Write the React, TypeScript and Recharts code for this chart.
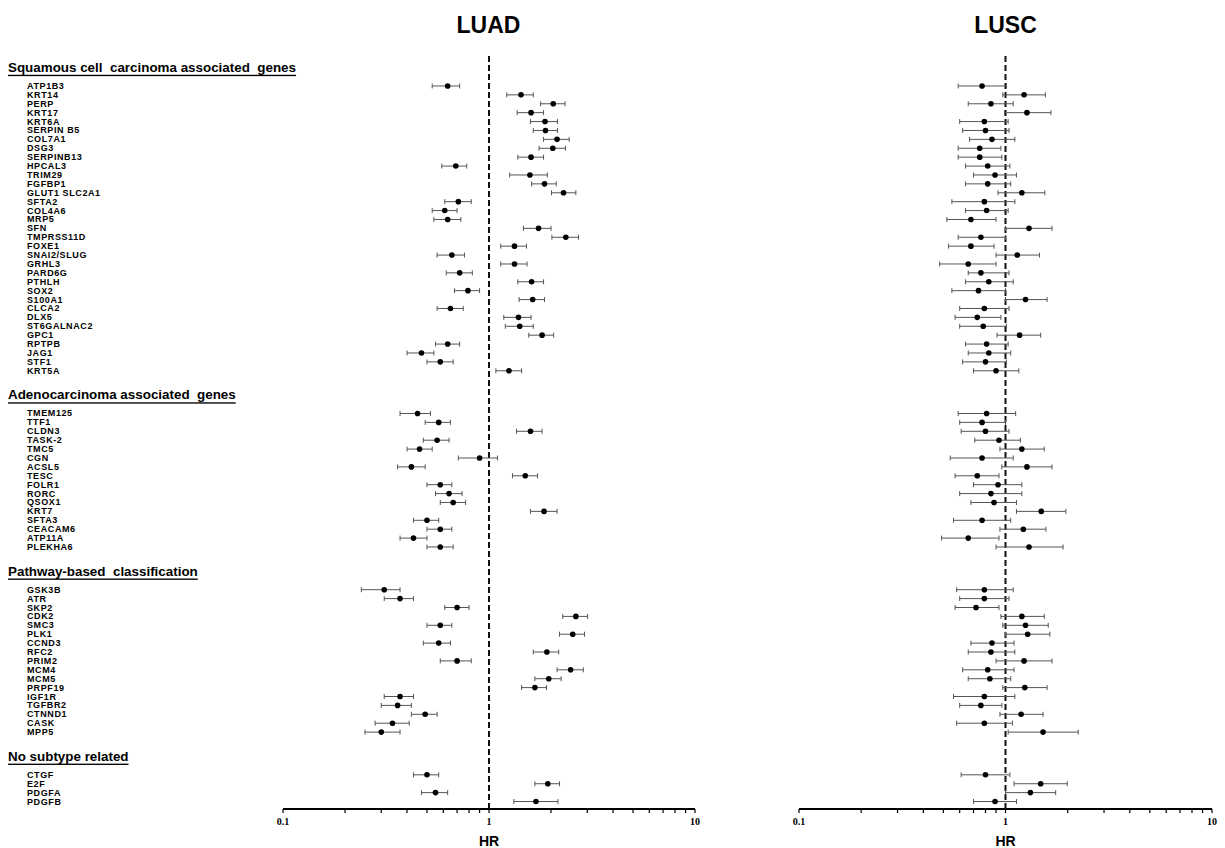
import React from 'react';
import { ComposedChart, Scatter, XAxis, YAxis, ErrorBar, ReferenceLine } from 'recharts';

// ---------- categories ----------
const squamousGenes = [
  'ATP1B3', 'KRT14', 'PERP', 'KRT17', 'KRT6A', 'SERPIN B5', 'COL7A1', 'DSG3', 'SERPINB13', 'HPCAL3',
  'TRIM29', 'FGFBP1', 'GLUT1 SLC2A1', 'SFTA2', 'COL4A6', 'MRP5', 'SFN', 'TMPRSS11D', 'FOXE1', 'SNAI2/SLUG',
  'GRHL3', 'PARD6G', 'PTHLH', 'SOX2', 'S100A1', 'CLCA2', 'DLX5', 'ST6GALNAC2', 'GPC1', 'RPTPB',
  'JAG1', 'STF1', 'KRT5A',
];
const adenoGenes = [
  'TMEM125', 'TTF1', 'CLDN3', 'TASK-2', 'TMC5', 'CGN', 'ACSL5', 'TESC', 'FOLR1', 'RORC',
  'QSOX1', 'KRT7', 'SFTA3', 'CEACAM6', 'ATP11A', 'PLEKHA6',
];
const pathwayGenes = [
  'GSK3B', 'ATR', 'SKP2', 'CDK2', 'SMC3', 'PLK1', 'CCND3', 'RFC2', 'PRIM2', 'MCM4',
  'MCM5', 'PRPF19', 'IGF1R', 'TGFBR2', 'CTNND1', 'CASK', 'MPP5',
];
const noSubtypeGenes = ['CTGF', 'E2F', 'PDGFA', 'PDGFB'];

const groupTitles = [
  'Squamous cell  carcinoma associated  genes',
  'Adenocarcinoma associated  genes',
  'Pathway-based  classification',
  'No subtype related',
];

// ---------- LUAD values ----------
const luadHR = [
  0.63, 1.43, 2.05, 1.60, 1.87, 1.88, 2.14, 2.04, 1.60, 0.69,
  1.58, 1.86, 2.30, 0.71, 0.61, 0.63, 1.74, 2.36, 1.33, 0.66,
  1.33, 0.72, 1.61, 0.79, 1.63, 0.65, 1.39, 1.41, 1.81, 0.63,
  0.47, 0.58, 1.25,
  0.45, 0.57, 1.59, 0.56, 0.46, 0.90, 0.42, 1.50, 0.58, 0.64,
  0.67, 1.85, 0.50, 0.58, 0.43, 0.58,
  0.31, 0.37, 0.70, 2.64, 0.58, 2.55, 0.57, 1.91, 0.70, 2.49,
  1.95, 1.67, 0.37, 0.36, 0.49, 0.34, 0.30,
  0.50, 1.93, 0.55, 1.69,
];
const luadLow = [
  0.53, 1.22, 1.78, 1.37, 1.59, 1.64, 1.84, 1.75, 1.38, 0.59,
  1.26, 1.61, 2.01, 0.61, 0.53, 0.54, 1.47, 2.02, 1.14, 0.56,
  1.14, 0.62, 1.38, 0.68, 1.40, 0.56, 1.18, 1.20, 1.56, 0.55,
  0.40, 0.50, 1.08,
  0.37, 0.49, 1.36, 0.48, 0.40, 0.71, 0.36, 1.30, 0.50, 0.55,
  0.58, 1.59, 0.43, 0.50, 0.37, 0.50,
  0.24, 0.31, 0.61, 2.28, 0.50, 2.20, 0.48, 1.64, 0.58, 2.14,
  1.67, 1.44, 0.31, 0.30, 0.42, 0.28, 0.25,
  0.43, 1.67, 0.47, 1.32,
];
const luadHigh = [
  0.72, 1.64, 2.34, 1.84, 2.15, 2.15, 2.45, 2.35, 1.84, 0.78,
  1.92, 2.12, 2.64, 0.82, 0.70, 0.73, 2.00, 2.72, 1.52, 0.76,
  1.53, 0.83, 1.84, 0.90, 1.86, 0.75, 1.60, 1.64, 2.06, 0.72,
  0.54, 0.67, 1.44,
  0.52, 0.65, 1.81, 0.64, 0.53, 1.10, 0.49, 1.72, 0.66, 0.74,
  0.77, 2.14, 0.57, 0.66, 0.50, 0.67,
  0.37, 0.43, 0.80, 3.01, 0.66, 2.91, 0.65, 2.18, 0.82, 2.87,
  2.24, 1.90, 0.43, 0.42, 0.56, 0.41, 0.37,
  0.57, 2.20, 0.63, 2.16,
];

// ---------- LUSC values ----------
const luscHR = [
  0.77, 1.23, 0.85, 1.27, 0.79, 0.80, 0.86, 0.75, 0.75, 0.82,
  0.89, 0.82, 1.20, 0.79, 0.81, 0.68, 1.30, 0.76, 0.68, 1.14,
  0.66, 0.76, 0.83, 0.74, 1.25, 0.79, 0.73, 0.78, 1.17, 0.81,
  0.83, 0.80, 0.90,
  0.81, 0.77, 0.80, 0.93, 1.20, 0.77, 1.27, 0.73, 0.92, 0.85,
  0.88, 1.49, 0.77, 1.22, 0.66, 1.30,
  0.79, 0.79, 0.72, 1.20, 1.25, 1.28, 0.86, 0.85, 1.23, 0.82,
  0.84, 1.24, 0.79, 0.76, 1.19, 0.79, 1.52,
  0.80, 1.48, 1.32, 0.89,
];
const luscLow = [
  0.59, 0.97, 0.66, 0.99, 0.60, 0.62, 0.67, 0.59, 0.59, 0.64,
  0.70, 0.64, 0.92, 0.55, 0.64, 0.52, 1.00, 0.59, 0.53, 0.90,
  0.48, 0.66, 0.64, 0.55, 1.00, 0.60, 0.57, 0.60, 0.91, 0.64,
  0.66, 0.62, 0.70,
  0.59, 0.60, 0.61, 0.71, 0.94, 0.54, 0.96, 0.57, 0.70, 0.60,
  0.68, 1.13, 0.56, 0.94, 0.49, 0.90,
  0.58, 0.60, 0.57, 0.95, 0.97, 1.00, 0.68, 0.66, 0.90, 0.62,
  0.66, 0.97, 0.56, 0.60, 0.94, 0.58, 1.03,
  0.61, 1.10, 1.00, 0.70,
];
const luscHigh = [
  1.01, 1.56, 1.09, 1.66, 1.03, 1.04, 1.11, 0.95, 0.96, 1.05,
  1.13, 1.06, 1.55, 1.11, 1.03, 0.90, 1.68, 1.00, 0.88, 1.46,
  0.90, 1.04, 1.09, 1.00, 1.59, 1.04, 0.95, 1.01, 1.48, 1.03,
  1.06, 1.01, 1.16,
  1.12, 1.00, 1.04, 1.18, 1.54, 1.09, 1.68, 0.93, 1.20, 1.20,
  1.13, 1.96, 1.06, 1.57, 0.93, 1.90,
  1.09, 1.04, 0.93, 1.54, 1.61, 1.64, 1.10, 1.11, 1.68, 1.10,
  1.06, 1.59, 1.11, 0.96, 1.52, 1.08, 2.25,
  1.05, 1.99, 1.75, 1.13,
];

// ---------- x-axis ticks ----------
const hrTicks = [0.1, 0.2, 0.3, 0.4, 0.5, 0.6, 0.7, 0.8, 0.9, 1, 2, 3, 4, 5, 6, 7, 8, 9, 10];
const hrTickLabels = ['0.1', '1', '10'];

// ---------- layout helpers (row slots) ----------
const GROUP_GAP = 4.8;
const HEADER_OFFSET = 2.1;
const Y_DOMAIN: [number, number] = [-3.48, 81.24];

type RowEntry = { pos: number; label: string; header: boolean; idx: number };
const entries: RowEntry[] = [];
{
  const groups = [squamousGenes, adenoGenes, pathwayGenes, noSubtypeGenes];
  let start = 0;
  let idx = 0;
  groups.forEach((genes, g) => {
    entries.push({ pos: start - HEADER_OFFSET, label: groupTitles[g], header: true, idx: -1 });
    genes.forEach((gene, i) => {
      entries.push({ pos: start + i, label: gene, header: false, idx: idx++ });
    });
    start = start + genes.length - 1 + GROUP_GAP;
  });
}
const geneEntries = entries.filter((e) => !e.header);
const yTicks = entries.map((e) => e.pos);

const buildData = (hr: number[], lo: number[], hi: number[]) =>
  geneEntries.map((e) => ({
    gene: e.label,
    pos: e.pos,
    hr: hr[e.idx],
    err: [hr[e.idx] - lo[e.idx], hi[e.idx] - hr[e.idx]],
  }));

const luadData = buildData(luadHR, luadLow, luadHigh);
const luscData = buildData(luscHR, luscLow, luscHigh);

const SANS = '"Liberation Sans", Arial, Helvetica, sans-serif';
const SERIF = '"Liberation Serif", "Times New Roman", serif';

const GeneTick = (props: any) => {
  const { y, payload } = props;
  const entry = entries.find((e) => Math.abs(e.pos - payload.value) < 1e-6);
  if (!entry) return null;
  if (entry.header) {
    return (
      <text
        x={8}
        y={y}
        dominantBaseline="central"
        fontSize={13.4}
        fontWeight="bold"
        fontFamily={SANS}
        fill="#000"
        textDecoration="underline"
        style={{ whiteSpace: 'pre' }}
      >
        {entry.label}
      </text>
    );
  }
  return (
    <text
      x={27}
      y={y}
      dominantBaseline="central"
      fontSize={9}
      fontWeight="bold"
      letterSpacing={0.6}
      fontFamily={SANS}
      fill="#000"
    >
      {entry.label}
    </text>
  );
};

const Dot = (props: any) => {
  const { cx, cy } = props;
  if (cx == null || cy == null) return null;
  return <circle cx={cx} cy={cy} r={2.8} fill="#000" />;
};

const fmtTick = (v: number) => {
  const s = String(v);
  return hrTickLabels.includes(s) ? s : '';
};

const Panel = ({ data, showLabels, width, margin }: any) => (
  <ComposedChart width={width} height={848} data={data} margin={margin}>
    <XAxis
      dataKey="hr"
      type="number"
      scale="log"
      domain={[0.1, 10]}
      allowDataOverflow
      ticks={hrTicks}
      interval={0}
      tickFormatter={fmtTick}
      axisLine={{ stroke: '#000', strokeWidth: 2 }}
      tickLine={{ stroke: '#000', strokeWidth: 1.2 }}
      tickSize={4}
      tickMargin={5}
      height={39}
      tick={{ fontSize: 10, fontWeight: 'bold', fontFamily: SERIF, fill: '#000' }}
      label={{
        value: 'HR',
        position: 'insideBottom',
        offset: 2,
        style: { fontSize: 14, fontWeight: 'bold', fontFamily: SANS, fill: '#000' },
      }}
    />
    <YAxis
      dataKey="pos"
      type="number"
      domain={Y_DOMAIN}
      reversed
      allowDataOverflow
      ticks={yTicks}
      interval={0}
      hide={!showLabels}
      width={showLabels ? 283 : 0}
      axisLine={false}
      tickLine={false}
      tick={<GeneTick />}
    />
    <ReferenceLine x={1} stroke="#111" strokeWidth={2} strokeDasharray="6 3" />
    <Scatter dataKey="hr" shape={<Dot />} isAnimationActive={false}>
      <ErrorBar dataKey="err" direction="x" width={2.5} stroke="#555" strokeWidth={1} />
    </Scatter>
  </ComposedChart>
);

const titleStyle = (center: number): React.CSSProperties => ({
  position: 'absolute',
  left: center - 100,
  top: 10,
  width: 200,
  textAlign: 'center',
  fontFamily: SANS,
  fontWeight: 'bold',
  fontSize: 23,
  lineHeight: '30px',
  color: '#000',
});

export default function App() {
  return (
    <div style={{ position: 'absolute', left: 0, top: 0, width: 1225, height: 848, background: '#fff', overflow: 'hidden' }}>
      <div style={titleStyle(488.5)}>LUAD</div>
      <div style={titleStyle(1005.5)}>LUSC</div>
      <div style={{ position: 'absolute', left: 0, top: 0 }}>
        <Panel data={luadData} showLabels width={715} margin={{ top: 55, right: 20, bottom: 0, left: 0 }} />
      </div>
      <div style={{ position: 'absolute', left: 715, top: 0 }}>
        <Panel data={luscData} showLabels={false} width={510} margin={{ top: 55, right: 13, bottom: 0, left: 84 }} />
      </div>
    </div>
  );
}
